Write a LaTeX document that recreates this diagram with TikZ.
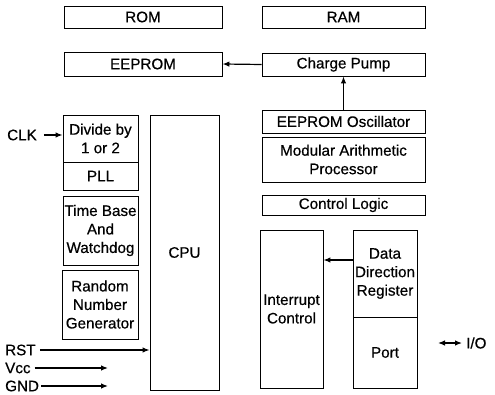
\documentclass[tikz,border=0pt]{standalone}
\usepackage{fontspec}
\setmainfont{Liberation Sans}[FakeBold=0.5]
\usetikzlibrary{arrows.meta}
\tikzset{
	blk/.style={draw,line width=0.9pt,inner sep=0pt,align=center,font=\fontsize{15.2}{18.5}\selectfont},
	arr/.style={line width=1.2pt,-{Latex[length=7pt,width=5.5pt]}},
	lbl/.style={anchor=west,inner sep=0pt,font=\fontsize{15.2}{17}\selectfont}
}

\begin{document}
\begin{tikzpicture}[x=1pt,y=-1pt]
		\useasboundingbox (0,0) rectangle (495,395);
		% memories and pump
		\node[blk,minimum width=158,minimum height=22] (rom) at (143,17) {ROM};
		\node[blk,minimum width=163,minimum height=22] (ram) at (343.5,17) {RAM};
		\node[blk,minimum width=158,minimum height=24] (eeprom) at (143,64) {EEPROM};
		\node[blk,minimum width=163,minimum height=23] (pump) at (343.5,64.5) {Charge Pump};
		\node[blk,minimum width=163,minimum height=23] (osc) at (343.5,121.5) {EEPROM Oscillator};
		\node[blk,minimum width=163,minimum height=45] (map) at (343.5,159.5) {Modular Arithmetic\\Processor};
		\node[blk,minimum width=163,minimum height=20] (ctrl) at (343.5,205) {Control Logic};
		% left column
		\node[blk,minimum width=75,minimum height=47] (div) at (100.5,138.5) {Divide by\\1 or 2};
		\node[blk,minimum width=75,minimum height=28] (pll) at (100.5,176) {PLL};
		\node[blk,minimum width=75,minimum height=69] (tbw) at (100.5,230.5) {Time Base\\And\\Watchdog};
		\node[blk,minimum width=76,minimum height=69] (rng) at (100,304.5) {Random\\Number\\Generator};
		\node[blk,minimum width=69,minimum height=275] (cpu) at (184.5,252.5) {CPU};
		% right column
		\node[blk,minimum width=63,minimum height=158] (intr) at (291.5,309) {Interrupt\\Control};
		\node[blk,minimum width=64,minimum height=87] (ddr) at (385,273.5) {Data\\Direction\\Register};
		\node[blk,minimum width=64,minimum height=71] (port) at (385,352.5) {Port};
		% pins
		\node[lbl] (clk) at (7,135) {CLK};
		\node[lbl] (rst) at (5,350) {RST};
		\node[lbl] (vcc) at (5,368) {Vcc};
		\node[lbl] (gnd) at (5,386) {GND};
		\node[lbl] (io) at (466,343) {I/O};
		\coordinate (vccend) at (108,368);
		\coordinate (gndend) at (108,386);
		\coordinate (ioend) at (438,343);
		\draw[arr] (pump.west) -- (eeprom.east);
		\draw[arr] (osc.north) -- (pump.south);
		\draw[arr] (ddr.west |- 0,260) -- (intr.east |- 0,260);
		\draw[arr] ([xshift=7pt]clk.east) -- (div.west |- clk);
		\draw[arr] ([xshift=4pt]rst.east) -- (cpu.west |- rst);
		\draw[arr] ([xshift=4pt]vcc.east) -- (vccend);
		\draw[arr] ([xshift=2pt]gnd.east) -- (gndend);
		\draw[arr,{Latex[length=7pt,width=5.5pt]}-{Latex[length=7pt,width=5.5pt]}] (ioend) -- ([xshift=-4pt]io.west);
	\end{tikzpicture}
\end{document}
